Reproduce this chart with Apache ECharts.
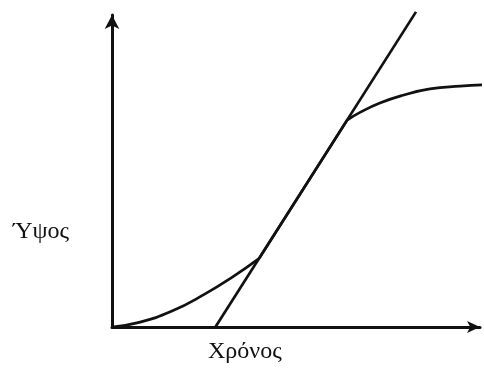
<!DOCTYPE html>
<html>
<head>
<meta charset="utf-8">
<script src="https://cdn.jsdelivr.net/npm/echarts@6/dist/echarts.min.js"></script>
<style>
  html, body { margin: 0; padding: 0; background: #ffffff; }
  #chart { width: 484px; height: 370px; }
</style>
</head>
<body>
<div id="chart"></div>
<script>
// Axis labels
const yLabel = 'Ύψος';
const xLabel = 'Χρόνος';

// Growth curve: slow start, linear phase, levelling off
const growthEarly = [[0, 0], [0.71, 0.14], [1.63, 0.51], [2.53, 1.06], [3.26, 1.59], [4.0, 2.2]];
const growthLinear = [[4.0, 2.2], [6.39, 6.63]];
const growthLate = [[6.39, 6.63], [6.74, 6.88], [7.28, 7.18], [7.88, 7.42], [8.64, 7.63], [9.46, 7.72], [10.11, 7.76]];

// Straight line through the linear phase, extended to the time axis
const tangentLine = [[2.81, 0], [8.26, 10.1]];

const ink = '#111111';

function curve(data, smooth) {
  return {
    type: 'line',
    data: data,
    smooth: smooth,
    showSymbol: false,
    clip: false,
    silent: true,
    lineStyle: { color: ink, width: 2.7 }
  };
}

const chart = echarts.init(document.getElementById('chart'), null, { renderer: 'canvas' });
chart.setOption({
  animation: false,
  backgroundColor: '#ffffff',
  grid: { left: 112, right: 4, top: 15, bottom: 43 },
  xAxis: {
    type: 'value', min: 0, max: 10,
    axisLine: { show: true, symbol: ['none', 'arrow'], symbolSize: [9, 13], lineStyle: { color: ink, width: 3 } },
    axisTick: { show: false }, axisLabel: { show: false }, splitLine: { show: false }
  },
  yAxis: {
    type: 'value', min: 0, max: 10,
    axisLine: { show: true, symbol: ['none', 'arrow'], symbolSize: [11, 14], lineStyle: { color: ink, width: 3 } },
    axisTick: { show: false }, axisLabel: { show: false }, splitLine: { show: false }
  },
  series: [
    curve(growthEarly, 0.5),
    curve(growthLinear, false),
    curve(growthLate, 0.5),
    curve(tangentLine, false)
  ],
  graphic: [
    { type: 'text', left: 13, top: 220, style: { text: yLabel, fill: ink, font: '24px "Liberation Serif", serif' } },
    { type: 'text', left: 208, top: 340, style: { text: xLabel, fill: ink, font: '24px "Liberation Serif", serif' } }
  ]
});
</script>
</body>
</html>
